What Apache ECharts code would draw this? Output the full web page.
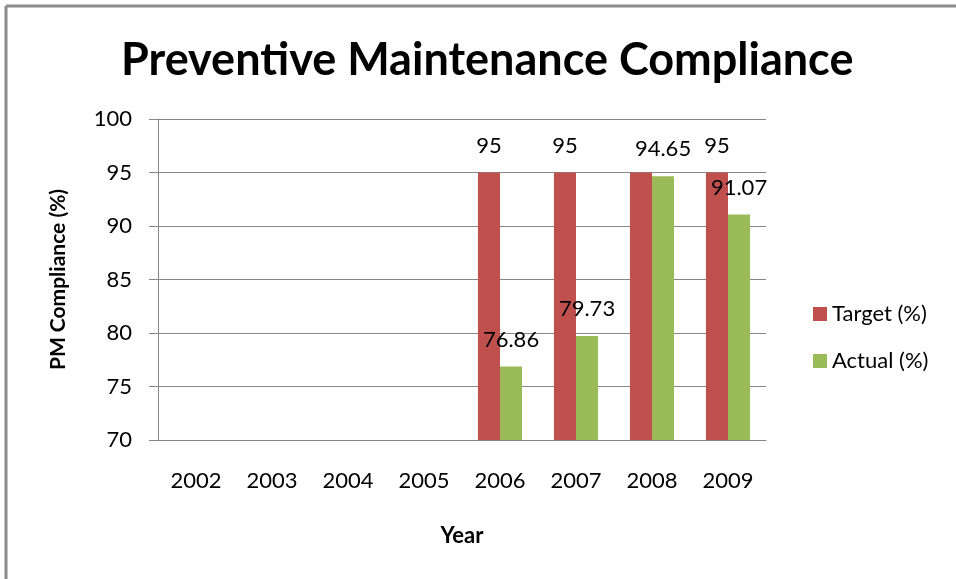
<!DOCTYPE html>
<html>
<head>
<meta charset="utf-8">
<script src="https://cdn.jsdelivr.net/npm/echarts@6/dist/echarts.min.js"></script>
<style>html,body{margin:0;padding:0;background:#fff;}#c{width:956px;height:579px;}</style>
</head>
<body>
<div id="c"></div>
<script>
var categories = ['2002','2003','2004','2005','2006','2007','2008','2009'];
var targetValues = ['-','-','-','-',95,95,95,95];
var actualValues = ['-','-','-','-',76.86,79.73,94.65,91.07];
var yTicks = [70,75,80,85,90,95,100];
var hiddenTargetLabels = ['2008'];

var FONT = 'Lato';
var targetData = targetValues.map(function (v, i) {
  if (hiddenTargetLabels.indexOf(categories[i]) >= 0) {
    return {value: v, label: {show: false}};
  }
  return v;
});

var chart = echarts.init(document.getElementById('c'));
chart.setOption({
  backgroundColor: '#fff',
  animation: false,
  title: {
    text: 'Preventive Maintenance Compliance',
    left: 116,
    top: 33,
    textStyle: {fontFamily: FONT, fontWeight: 'bold', fontSize: 45, color: '#000'}
  },
  legend: {
    orient: 'vertical',
    left: 808,
    top: 298,
    itemWidth: 14,
    itemHeight: 14,
    itemGap: 25,
    icon: 'rect',
    textStyle: {fontFamily: FONT, fontSize: 22, color: '#000'},
    data: ['Target (%)','Actual (%)']
  },
  grid: {left: 158, right: 190, top: 119, bottom: 139},
  xAxis: {
    type: 'category',
    data: categories,
    name: 'Year',
    nameLocation: 'middle',
    nameGap: 85,
    nameTextStyle: {fontFamily: FONT, fontWeight: 'bold', fontSize: 22, color: '#000'},
    axisLine: {lineStyle: {color: '#868686'}},
    axisTick: {length: 9, lineStyle: {color: '#868686'}},
    axisLabel: {fontFamily: FONT, fontSize: 22, color: '#000', margin: 30}
  },
  yAxis: {
    type: 'value',
    min: yTicks[0],
    max: yTicks[yTicks.length-1],
    interval: 5,
    name: 'PM Compliance (%)',
    nameLocation: 'middle',
    nameGap: 89,
    nameTextStyle: {fontFamily: FONT, fontWeight: 'bold', fontSize: 21, color: '#000'},
    axisLine: {show: true, lineStyle: {color: '#868686'}},
    axisTick: {show: true, length: 9, lineStyle: {color: '#868686'}},
    axisLabel: {fontFamily: FONT, fontSize: 22, color: '#000', margin: 26},
    splitLine: {lineStyle: {color: '#868686'}}
  },
  series: [
    {
      name: 'Target (%)', type: 'bar', data: targetData,
      barGap: '0%', barCategoryGap: '42%',
      itemStyle: {color: '#C0504D'},
      label: {show: true, position: 'top', distance: 16, fontFamily: FONT, fontSize: 22, color: '#000'}
    },
    {
      name: 'Actual (%)', type: 'bar', data: actualValues,
      itemStyle: {color: '#9BBB59'},
      label: {show: true, position: 'top', distance: 16, fontFamily: FONT, fontSize: 22, color: '#000'}
    }
  ],
  graphic: [
    {type: 'line', shape: {x1: 6, y1: 6, x2: 956, y2: 6}, style: {stroke: '#8c8c8c', lineWidth: 3}},
    {type: 'line', shape: {x1: 6, y1: 6, x2: 6, y2: 579}, style: {stroke: '#8c8c8c', lineWidth: 3}}
  ]
});
</script>
</body>
</html>
